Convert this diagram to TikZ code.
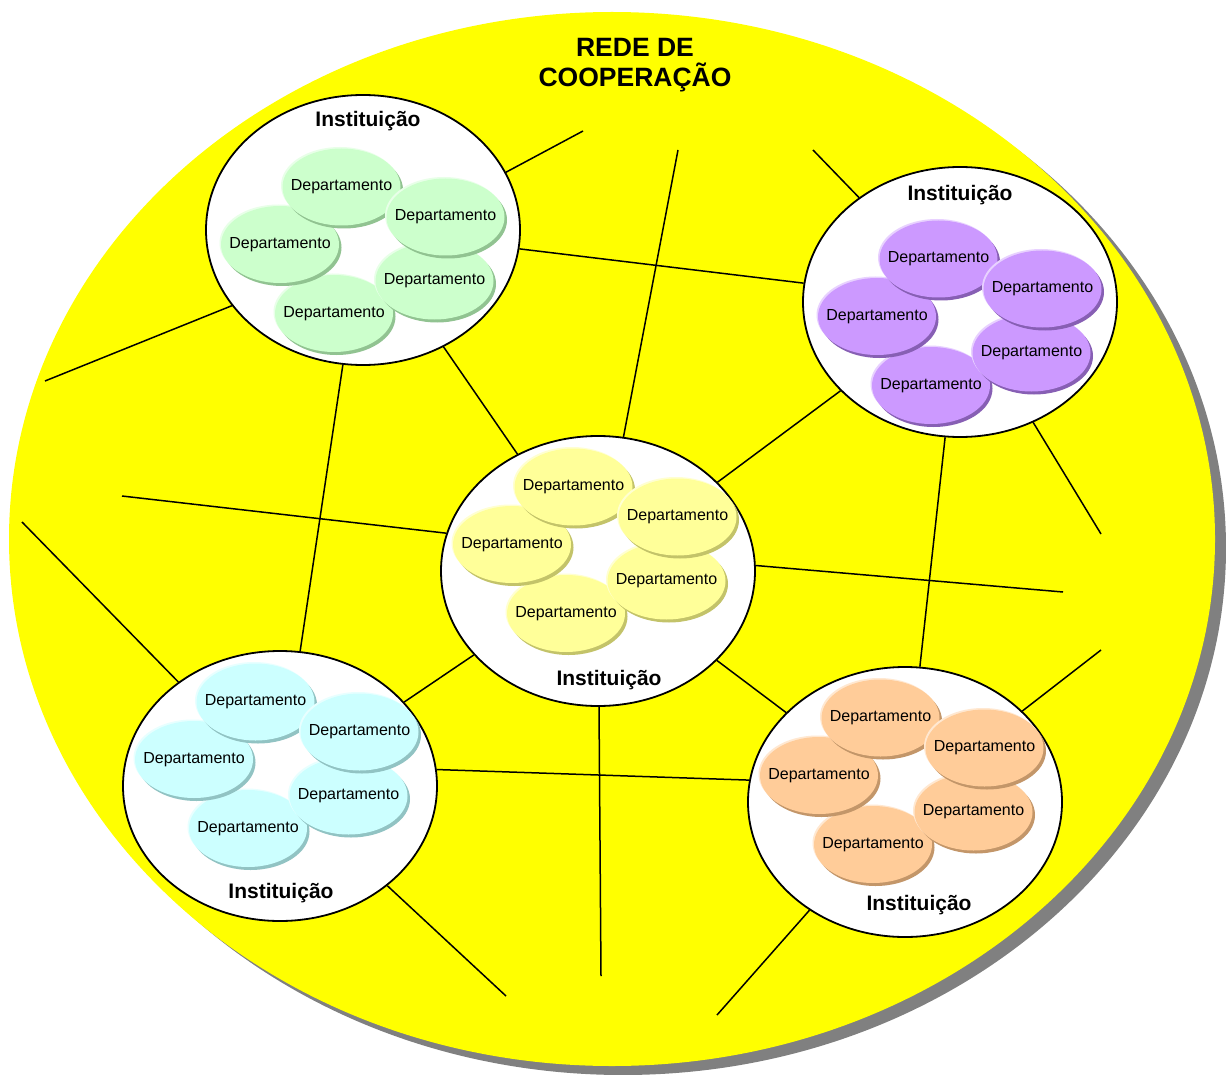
\documentclass[tikz,border=0pt]{standalone}
\usepackage{fontspec}
\setmainfont{Liberation Sans}
\usetikzlibrary{shapes.geometric, shadows, positioning}
\definecolor{netyellow}{RGB}{255,255,0}
\definecolor{netshadow}{RGB}{128,128,128}
\definecolor{deptgreen}{RGB}{204,255,204}
\definecolor{deptgreendk}{RGB}{145,195,145}
\definecolor{deptpurple}{RGB}{204,153,255}
\definecolor{deptpurpledk}{RGB}{135,95,180}
\definecolor{deptyellow}{RGB}{255,255,153}
\definecolor{deptyellowdk}{RGB}{195,195,105}
\definecolor{deptcyan}{RGB}{204,255,255}
\definecolor{deptcyandk}{RGB}{145,195,195}
\definecolor{deptorange}{RGB}{255,204,153}
\definecolor{deptorangedk}{RGB}{195,150,105}

\begin{document}
\begin{tikzpicture}[x=1pt, y=-1pt,
    inst/.style={ellipse, draw, line width=1.8pt, fill=white, minimum width=314pt, minimum height=270pt, inner sep=0pt},
    dept/.style 2 args={ellipse, fill=#1, minimum width=118pt, minimum height=77pt, inner xsep=-9.5pt, inner ysep=0pt,
        font=\fontsize{16}{19}\selectfont,
        drop shadow={shadow xshift=2.5pt, shadow yshift=-3pt, fill=#2, opacity=1},
        drop shadow={shadow xshift=-1.5pt, shadow yshift=1.5pt, fill=#1!45!white, opacity=1}},
    instlabel/.style={font=\bfseries\fontsize{21}{25}\selectfont},
    link/.style={line width=1.5pt}]
    \useasboundingbox (0,0) rectangle (1226,1075);

    % The network: big yellow ellipse with its shadow
    \fill[netshadow] (623,548) ellipse [x radius=603, y radius=527];
    \fill[netyellow] (612,539) ellipse [x radius=603, y radius=527];

    \node[font=\bfseries\fontsize{26.5}{30}\selectfont, align=center] (title) at (635,65) {REDE DE\\COOPERAÇÃO};

    % Institutions with their departments
    \foreach \name/\x/\y/\fc/\sc/\dx/\dy/\lx/\ly in {
        green/363/230/deptgreen/deptgreendk/0/0/5/-109,
        purple/960/302/deptpurple/deptpurpledk/0/0/0/-107,
        yellow/598/571/deptyellow/deptyellowdk/-3/-41/11/109,
        cyan/280/786/deptcyan/deptcyandk/-3/-41/1/107,
        orange/905/802/deptorange/deptorangedk/-3/-41/14/103} {
        \node[inst] (\name) at (\x,\y) {};
        \node[instlabel] (\name-label) at (\x+\lx,\y+\ly) {Instituição};
        \foreach \i/\u/\v in {5/-29/83.5, 3/-83/14.5, 4/71.5/51, 1/-21.5/-43, 2/82.5/-13}
            \node[dept={\fc}{\sc}] (\name-d\i) at (\x+\dx+\u,\y+\dy+\v) {Departamento};
    }

    % Loose ends of the network
    \coordinate (endA) at (583,131);
    \coordinate (endB) at (678,150);
    \coordinate (endC) at (813,150);
    \coordinate (endD) at (45,381);
    \coordinate (endE) at (122,496);
    \coordinate (endF) at (22,522);
    \coordinate (endG) at (1101,534);
    \coordinate (endH) at (1063,592);
    \coordinate (endI) at (601,976);
    \coordinate (endJ) at (506,996);
    \coordinate (endK) at (1101,650);
    \coordinate (endL) at (717,1015);

    % Links between institutions
    \draw[link] (green) -- (purple);
    \draw[link] (green) -- (yellow);
    \draw[link] (green) -- (cyan);
    \draw[link] (purple) -- (yellow);
    \draw[link] (purple) -- (orange);
    \draw[link] (yellow) -- (cyan);
    \draw[link] (yellow) -- (orange);
    \draw[link] (cyan.6) -- (orange.172);

    % Links going out
    \draw[link] (green.22) -- (endA);
    \draw[link] (yellow) -- (endB);
    \draw[link] (purple) -- (endC);
    \draw[link] (green.210) -- (endD);
    \draw[link] (yellow.166) -- (endE);
    \draw[link] (cyan) -- (endF);
    \draw[link] (purple) -- (endG);
    \draw[link] (yellow.2) -- (endH);
    \draw[link] (yellow) -- (endI);
    \draw[link] (cyan) -- (endJ);
    \draw[link] (orange) -- (endK);
    \draw[link] (orange) -- (endL);
\end{tikzpicture}
\end{document}
